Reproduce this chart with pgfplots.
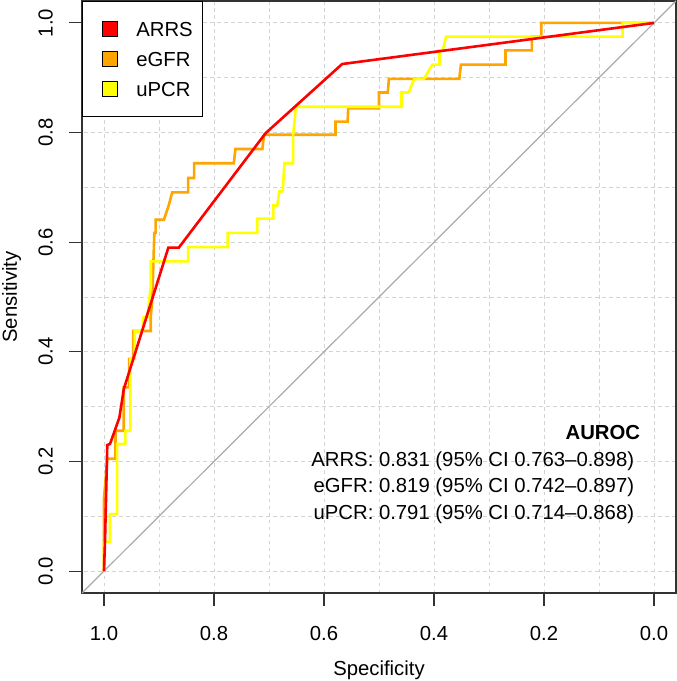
\documentclass[border=0pt]{standalone}
\usepackage{pgfplots}
\pgfplotsset{compat=1.18}
\usepackage{fontspec}
\setmainfont{Liberation Sans}
\definecolor{gridgray}{HTML}{D3D3D3}
\definecolor{diaggray}{HTML}{AAAAAA}
\definecolor{axgray}{HTML}{333333}
\definecolor{cARRS}{HTML}{FF0000}
\definecolor{ceGFR}{HTML}{FFA500}
\definecolor{cuPCR}{HTML}{FFFF00}
\begin{document}
\fontsize{20.3bp}{24bp}\selectfont
\begin{tikzpicture}
\begin{axis}[
  at={(0,0)}, anchor=south west,
  scale only axis, width=594bp, height=592bp,
  x dir=reverse,
  xmin=-0.04, xmax=1.04, ymin=-0.04, ymax=1.04,
  xtick={0,0.2,0.4,0.6,0.8,1.0},
  ytick={0,0.2,0.4,0.6,0.8,1.0},
  xticklabels={0.0,0.2,0.4,0.6,0.8,1.0},
  yticklabels={0.0,0.2,0.4,0.6,0.8,1.0},
  minor xtick={0.1,0.3,0.5,0.7,0.9},
  minor ytick={0.1,0.3,0.5,0.7,0.9},
  grid=both,
  major grid style={gridgray, dash pattern=on 3.5bp off 3.5bp, line width=0.9bp},
  minor grid style={gridgray, dash pattern=on 3.5bp off 3.5bp, line width=0.9bp},
  tick align=outside, major tick length=13bp, minor tick length=0pt,
  xtick pos=left, ytick pos=left,
  major tick style={axgray, line width=1.1bp},
  axis line style={axgray, line width=1.2bp},
  xticklabel style={anchor=north, inner sep=0pt, yshift=-19.7bp},
  yticklabel style={xshift=-16bp, rotate=90, anchor=south, inner sep=0pt},
  every axis x label/.style={at={(rel axis cs:0.5,0)}, yshift=-82bp, anchor=base, inner sep=0pt},
  every axis y label/.style={at={(rel axis cs:0,0.5)}, xshift=-65bp, rotate=90, anchor=base, inner sep=0pt},
  xlabel={Specificity}, ylabel={Sensitivity},
  legend cell align=left,
  legend style={at={(0,1)}, anchor=north west, draw=black, line width=1bp, fill=white,
    inner xsep=10bp, inner ysep=20bp, row sep=14bp, column sep=19bp,
    nodes={inner sep=0pt, text height=14.5bp, text depth=0bp}},
]
\addlegendimage{legend image code/.code={\path (0bp,0bp); \draw[black, line width=0.8bp, fill=cARRS] (9bp,-7.5bp) rectangle (24bp,7.5bp);}}
\addlegendentry{ARRS}
\addlegendimage{legend image code/.code={\path (0bp,0bp); \draw[black, line width=0.8bp, fill=ceGFR] (9bp,-7.5bp) rectangle (24bp,7.5bp);}}
\addlegendentry{eGFR}
\addlegendimage{legend image code/.code={\path (0bp,0bp); \draw[black, line width=0.8bp, fill=cuPCR] (9bp,-7.5bp) rectangle (24bp,7.5bp);}}
\addlegendentry{uPCR}

\addplot[diaggray, line width=1.2bp, forget plot] coordinates {(1.04,-0.04) (-0.04,1.04)};

% eGFR
\addplot[ceGFR, line width=2.6bp, forget plot] coordinates {
(1,0) (1,0.132) (0.994,0.205) (0.979,0.205) (0.979,0.256) (0.964,0.256) (0.964,0.335)
(0.954,0.335) (0.954,0.387) (0.947,0.387) (0.947,0.438) (0.915,0.438) (0.915,0.463)
(0.912,0.5) (0.9085,0.617) (0.906,0.617) (0.906,0.641) (0.891,0.641) (0.882,0.668)
(0.876,0.691) (0.847,0.691) (0.847,0.717) (0.836,0.717) (0.836,0.744) (0.764,0.744)
(0.761,0.770) (0.712,0.770) (0.709,0.796) (0.579,0.796) (0.579,0.820) (0.557,0.820)
(0.556,0.844) (0.5,0.844) (0.5,0.873) (0.484,0.873) (0.482,0.898) (0.354,0.898)
(0.351,0.924) (0.270,0.924) (0.270,0.950) (0.222,0.950) (0.222,0.975) (0.205,0.975)
(0.205,1) (0,1)};

% uPCR
\addplot[cuPCR, line width=2.6bp, forget plot] coordinates {
(1,0) (1,0.053) (0.989,0.053) (0.989,0.104) (0.976,0.104) (0.976,0.232) (0.961,0.232)
(0.961,0.256) (0.952,0.256) (0.952,0.387) (0.944,0.387) (0.944,0.437) (0.930,0.437)
(0.928,0.463) (0.921,0.463) (0.915,0.52) (0.915,0.565) (0.847,0.565) (0.847,0.591)
(0.775,0.591) (0.775,0.617) (0.721,0.617) (0.721,0.643) (0.692,0.643) (0.692,0.667)
(0.685,0.667) (0.681,0.693) (0.675,0.693) (0.672,0.744) (0.656,0.744) (0.656,0.797)
(0.651,0.847) (0.459,0.847) (0.459,0.873) (0.446,0.873) (0.436,0.898) (0.418,0.898)
(0.403,0.924) (0.390,0.924) (0.390,0.950) (0.384,0.950) (0.378,0.975) (0.057,0.975)
(0.057,1) (0,1)};

% ARRS
\addplot[cARRS, line width=2.6bp, forget plot] coordinates {
(1,0) (0.998,0.06) (0.994,0.23) (0.989,0.232) (0.972,0.28) (0.964,0.332)
(0.883,0.59) (0.864,0.59) (0.706,0.799) (0.567,0.925) (0,1)};

\node[anchor=base east, inner sep=0pt] at (axis cs:0.0249,0.240) {\bfseries AUROC};
\node[anchor=base east, inner sep=0pt] at (axis cs:0.0358,0.1916) {ARRS: 0.831 (95\% CI 0.763–0.898)};
\node[anchor=base east, inner sep=0pt] at (axis cs:0.0358,0.1425) {eGFR: 0.819 (95\% CI 0.742–0.897)};
\node[anchor=base east, inner sep=0pt] at (axis cs:0.0358,0.0945) {uPCR: 0.791 (95\% CI 0.714–0.868)};
\end{axis}
\pgfresetboundingbox
\path[use as bounding box] (-82bp,-88bp) rectangle (595bp,593bp);
\end{tikzpicture}
\end{document}
